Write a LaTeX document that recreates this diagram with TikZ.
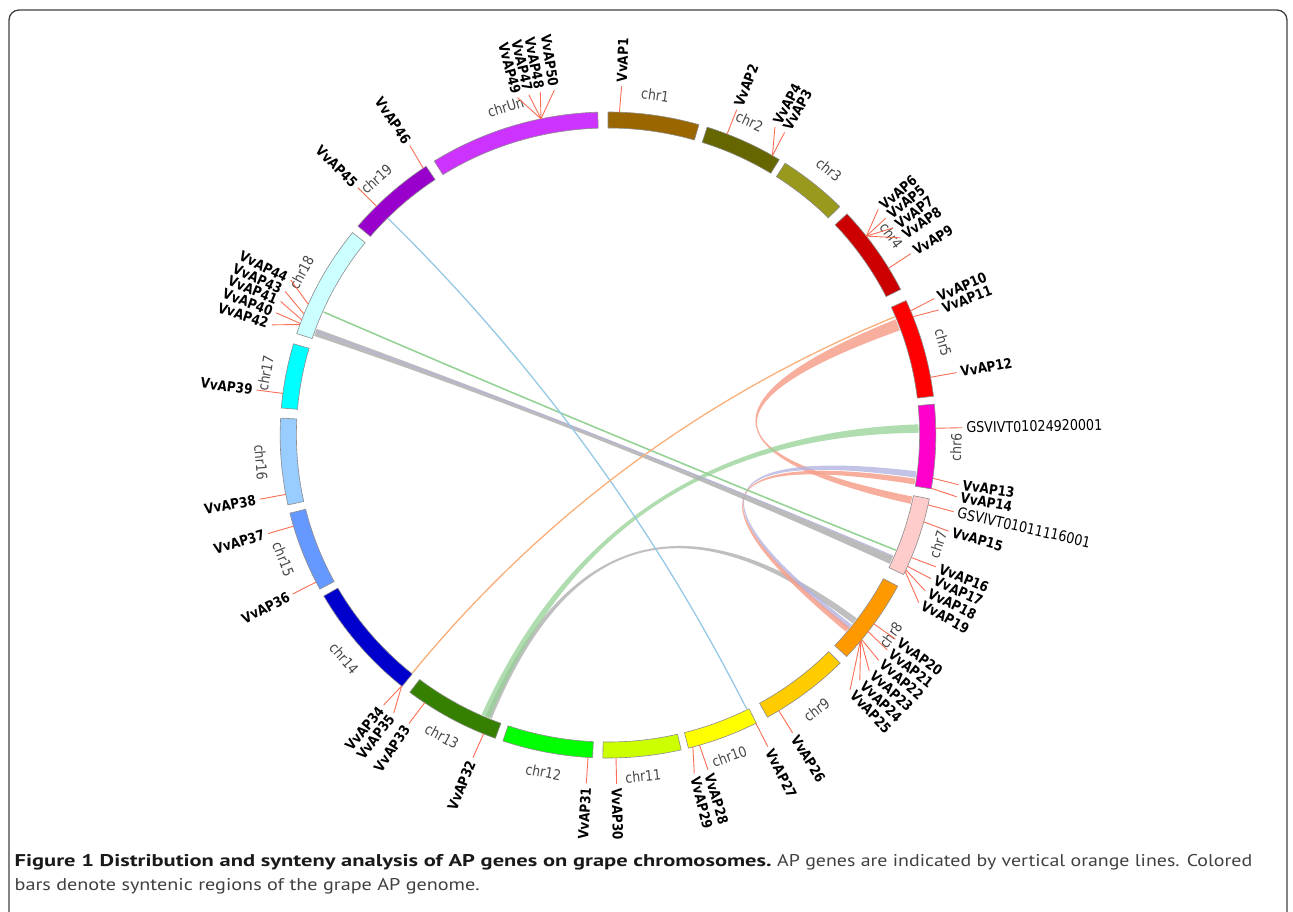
\documentclass[tikz,border=0pt]{standalone}
\usepackage{fontspec}
\usepackage{graphicx}
\usetikzlibrary{calc}
\newfontfamily\genefont{DejaVu Sans}[FakeStretch=0.86]
\newfontfamily\capfont{PT Sans}
\definecolor{cA}{RGB}{153,102,0}
\definecolor{cB}{RGB}{102,102,0}
\definecolor{cC}{RGB}{153,153,30}
\definecolor{cD}{RGB}{204,0,0}
\definecolor{cE}{RGB}{255,0,0}
\definecolor{cF}{RGB}{255,0,204}
\definecolor{cG}{RGB}{255,204,204}
\definecolor{cH}{RGB}{255,153,0}
\definecolor{cI}{RGB}{255,204,0}
\definecolor{cJ}{RGB}{255,255,0}
\definecolor{cK}{RGB}{204,255,0}
\definecolor{cL}{RGB}{0,255,0}
\definecolor{cM}{RGB}{53,128,0}
\definecolor{cN}{RGB}{0,0,204}
\definecolor{cO}{RGB}{102,153,255}
\definecolor{cP}{RGB}{153,204,255}
\definecolor{cQ}{RGB}{0,255,255}
\definecolor{cR}{RGB}{204,255,255}
\definecolor{cS}{RGB}{153,0,204}
\definecolor{cU}{RGB}{204,51,255}
\definecolor{tickc}{RGB}{250,110,85}
\definecolor{salmonl}{RGB}{246,160,140}
\definecolor{lavl}{RGB}{180,180,225}
\definecolor{greenl}{RGB}{150,210,150}
\definecolor{grayl}{RGB}{175,175,175}
\definecolor{bluel}{RGB}{150,200,230}
\definecolor{orangel}{RGB}{250,175,120}
\newcommand\ribbonlink[6]{%
  \fill[#1, fill opacity=#6] ({90-#2}:306) .. controls ({90-#2}:102) and ({90-#5}:102) .. ({90-#5}:306)
    arc[start angle={90-#5}, end angle={90-#4}, radius=306]
    .. controls ({90-#4}:102) and ({90-#3}:102) .. ({90-#3}:306)
    arc[start angle={90-#3}, end angle={90-#2}, radius=306] -- cycle;}
\newcommand\linelink[4]{%
  \draw[#1, line width=#4] ({90-#2}:306) .. controls ({90-#2}:102) and ({90-#3}:102) .. ({90-#3}:306);}
\begin{document}
\begin{tikzpicture}[x=1pt,y=1pt,
  chrbar/.style={draw=black!45, line width=0.6pt},
  genetick/.style={draw=tickc, line width=0.9pt},
  genelab/.style={font=\genefont\bfseries\fontsize{14}{14}\selectfont, inner sep=0pt, text=black},
  gslab/.style={font=\genefont\fontsize{14.8}{15}\selectfont, inner sep=0pt, text=black},
  chrlab/.style={font=\genefont\fontsize{14.5}{15}\selectfont, text=black!72, inner sep=0pt},
  capbold/.style={anchor=base west, inner sep=0pt, text=black!90},
  capreg/.style={anchor=base west, inner sep=0pt, text=black!75},
]
\useasboundingbox (-608,-476) rectangle (685,435);
\draw[line width=1.3pt, black!75, rounded corners=10pt] (-599,-520) -- (-599,425) -- (679,425) -- (679,-520);

\begin{scope}[xscale=1.015]
% links
\ribbonlink{salmonl}{67.8}{70.0}{101.6}{103.0}{0.85}
\ribbonlink{grayl}{126.8}{128.0}{202.0}{203.2}{0.8}
\ribbonlink{greenl}{88.0}{89.6}{202.4}{204.0}{0.75}
\ribbonlink{lavl}{96.8}{98.0}{128.3}{129.3}{0.8}
\ribbonlink{salmonl}{98.2}{99.3}{129.0}{130.0}{0.85}
\ribbonlink{grayl}{113.4}{114.9}{288.9}{290.3}{0.85}
\linelink{greenl}{112.1}{293.7}{1.6pt}
\linelink{lavl}{113.3}{289.8}{0.8pt}
\linelink{bluel}{153.5}{315.0}{1.3pt}
\linelink{orangel}{67.3}{219.0}{1.3pt}

% chromosome bars
\foreach \a/\b/\c/\n in {0/16.1/cA/1, 17.6/31.5/cB/2, 32.7/45.0/cC/3, 46.8/63.2/cD/4,
  65.4/83.1/cE/5, 84.5/99.6/cF/6, 101.4/115.6/cG/7, 117.9/133.3/cH/8, 134.9/150.9/cI/9,
  153.1/165.8/cJ/10, 167.1/180.9/cK/11, 182.7/198.7/cL/12, 200.1/217.2/cM/13,
  218.9/240.1/cN/14, 241.5/256.0/cO/15, 257.5/273.0/cP/16, 274.8/286.4/cQ/17,
  288.3/308.8/cR/18, 310.3/326.3/cS/19, 328.0/358.2/cU/Un}{
  \filldraw[chrbar, fill=\c] ({90-\a}:307) arc[start angle={90-\a}, end angle={90-\b}, radius=307]
    -- ({90-\b}:323) arc[start angle={90-\b}, end angle={90-\a}, radius=323] -- cycle;
}

% chromosome labels
\foreach \t/\n in {7.8/1, 24.0/2, 39.4/3, 54.5/4, 74.4/5, 92.0/6, 108.6/7, 125.7/8,
  143.2/9, 159.6/10, 174.2/11, 190.7/12, 208.5/13, 229.3/14, 248.8/15, 265.4/16,
  280.4/17, 298.3/18, 318.3/19, 342.9/Un}{
  \pgfmathsetmacro\rot{(\t<90 || \t>270) ? -\t : 180-\t}
  \node[chrlab, rotate=\rot] (c\n) at ({90-\t}:343) {chr\n};
}

% gene ticks and labels
\foreach \n/\g/\l in {1/2.0/2.2, 2/21.3/21.3, 4/30.1/28.1, 3/30.1/29.9,
  6/52.0/49.7, 5/52.0/51.6, 7/52.0/53.6, 8/52.0/55.6, 9/58.9/58.7,
  10/67.4/67.0, 11/68.5/69.0, 12/79.7/79.7, 13/97.7/98.2, 14/99.5/100.2,
  15/105.6/106.0, 16/112.3/112.2, 17/114.0/114.3, 18/114.7/116.5, 19/115.0/118.7,
  20/125.8/125.8, 21/127.5/128.0, 22/129.3/130.2, 23/129.5/132.5, 24/129.6/134.7,
  25/129.7/136.9, 26/148.6/148.6, 27/153.2/153.2, 28/163.8/163.6, 29/165.0/165.9,
  30/178.6/178.6, 31/183.5/183.5, 32/202.3/202.4, 33/214.0/214.2, 35/219.0/217.2,
  34/219.0/219.3, 36/242.9/242.9, 37/253.6/253.6, 38/259.4/259.4, 39/277.4/277.4,
  42/290.0/288.4, 40/290.2/290.5, 41/290.9/292.5, 43/292.0/294.3, 44/293.9/296.4,
  45/315.1/315.1, 46/325.7/326.0, 49/348.2/345.2, 47/348.2/347.1, 48/348.2/349.0,
  50/348.2/351.3}{
  \coordinate (gs\n) at ({90-\g}:323);
  \coordinate (ge\n) at ({90-\l}:349);
  \draw[genetick] (gs\n) -- (ge\n);
  \ifdim\l pt<180pt
    \pgfmathsetmacro\rot{90-\l}
    \node[genelab, rotate=\rot, anchor=west] (g\n) at ({90-\l}:353) {VvAP\n};
  \else
    \pgfmathsetmacro\rot{270-\l}
    \node[genelab, rotate=\rot, anchor=east] (g\n) at ({90-\l}:353) {VvAP\n};
  \fi
}
\coordinate (hs1) at ({90-88.8}:323);
\coordinate (he1) at ({90-88.8}:349);
\draw[genetick] (hs1) -- (he1);
\node[gslab, rotate=1.2, anchor=west] (h1) at ({90-88.8}:353) {GSVIVT01024920001};
\coordinate (hs2) at ({90-102.5}:323);
\coordinate (he2) at ({90-102.7}:349);
\draw[genetick] (hs2) -- (he2);
\node[gslab, rotate=-12.7, anchor=west] (h2) at ({90-102.7}:353) {GSVIVT01011116001};
\end{scope}

% caption
\node[capbold] (cap1) at (-593.5,-431) {\resizebox{757pt}{\height}{\capfont\bfseries\fontsize{17}{20}\selectfont Figure 1 Distribution and synteny analysis of AP genes on grape chromosomes.}};
\node[capreg] (cap2) at (169,-431) {\resizebox{475pt}{\height}{\capfont\fontsize{17}{20}\selectfont AP genes are indicated by vertical orange lines. Colored}};
\node[capreg] (cap3) at (-593.5,-455) {\resizebox{465pt}{\height}{\capfont\fontsize{17}{20}\selectfont bars denote syntenic regions of the grape AP genome.}};
\end{tikzpicture}
\end{document}
